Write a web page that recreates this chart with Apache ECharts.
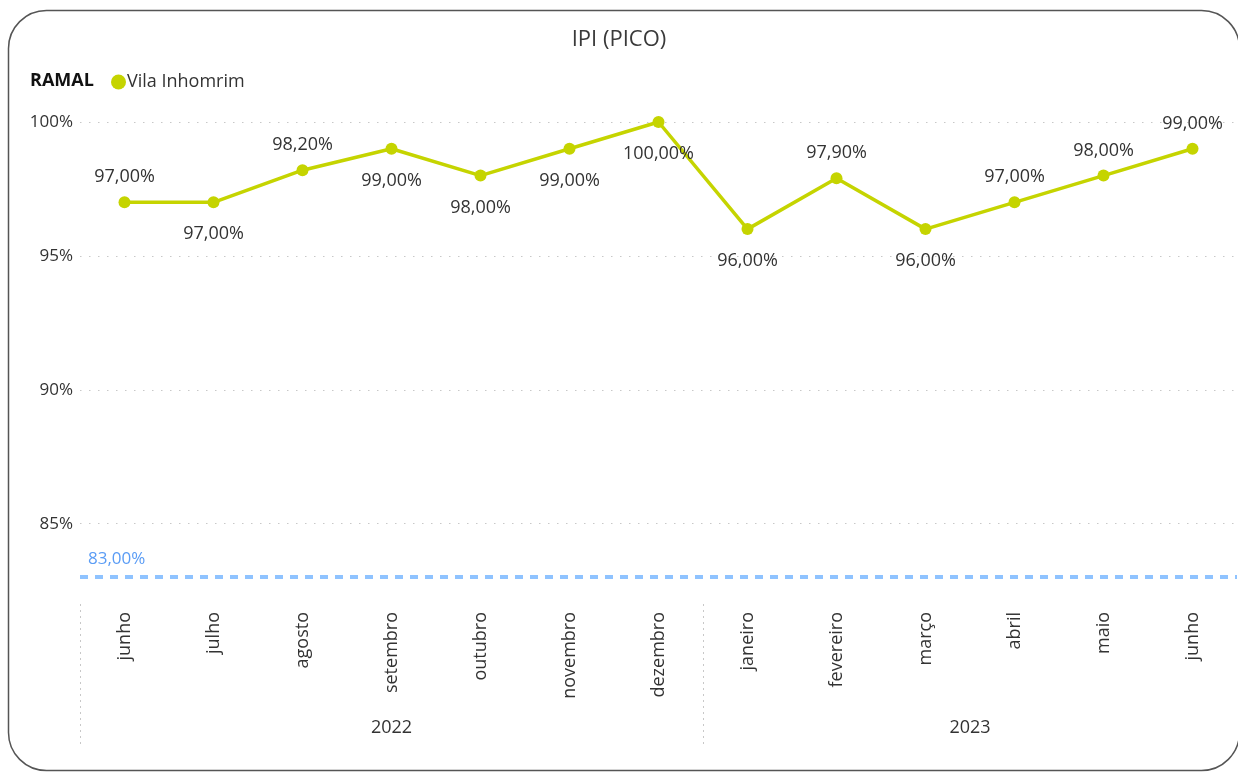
<!DOCTYPE html>
<html>
<head>
<meta charset="utf-8">
<script src="https://cdn.jsdelivr.net/npm/echarts@6/dist/echarts.min.js"></script>
<style>
  html, body { margin: 0; padding: 0; background: #fff; }
  #chart { width: 1238px; height: 772px; }
</style>
</head>
<body>
<div id="chart"></div>
<script>
// Monthly IPI (peak) for the Vila Inhomrim branch, Jun/2022 – Jun/2023
const months = ['junho', 'julho', 'agosto', 'setembro', 'outubro', 'novembro', 'dezembro',
                'janeiro', 'fevereiro', 'março', 'abril', 'maio', 'junho'];
const years = ['2022', '2023'];
const monthsPerYear = [7, 6];
const ipiValues = [97.0, 97.0, 98.2, 99.0, 98.0, 99.0, 100.0, 96.0, 97.9, 96.0, 97.0, 98.0, 99.0];
const targetValue = 83.0;
const yTicks = [85, 90, 95, 100];
const seriesName = 'Vila Inhomrim';

// which side of the point each data label sits on
const labelSide = ['top', 'bottom', 'top', 'bottom', 'bottom', 'bottom', 'bottom',
                   'bottom', 'top', 'bottom', 'top', 'top', 'top'];

const FONT = '"Open Sans", "Noto Sans", sans-serif';
const TEXT = '#333333';
const LINE = '#C5D400';

const fmtPct = v => v.toFixed(2).replace('.', ',') + '%';

// group boundaries and centres for the year row
const bounds = [-0.5];
const centres = [];
monthsPerYear.forEach((n, i) => {
  const start = bounds[i];
  bounds.push(start + n);
  centres.push(start + n / 2);
});

const chart = echarts.init(document.getElementById('chart'), null, { renderer: 'canvas' });

chart.setOption({
  animation: false,
  backgroundColor: '#ffffff',
  title: {
    text: 'IPI (PICO)',
    left: 'center',
    top: 24,
    textStyle: { fontFamily: FONT, fontSize: 22, fontWeight: 'normal', color: '#3a3a3a' }
  },
  graphic: [
    {
      type: 'rect',
      shape: { x: 8.5, y: 10.5, width: 1231, height: 760, r: 38 },
      style: { fill: 'none', stroke: '#555555', lineWidth: 1.5 },
      silent: true,
      z: -1
    },
    {
      type: 'text',
      left: 30,
      top: 72,
      style: { text: 'RAMAL', font: 'bold 18px ' + FONT, fill: '#111111' }
    }
  ],
  legend: {
    left: 106,
    top: 68,
    itemWidth: 15,
    itemHeight: 15,
    itemGap: 10,
    icon: 'circle',
    textStyle: { fontFamily: FONT, fontSize: 18, color: TEXT, padding: [0, 0, 0, -4] },
    data: [seriesName]
  },
  grid: { left: 80, right: 1, top: 122, bottom: 168, containLabel: false },
  xAxis: [
    {
      type: 'category',
      data: months,
      boundaryGap: true,
      axisLine: { show: false },
      axisTick: { show: false },
      axisLabel: {
        rotate: 90,
        margin: 8,
        interval: 0,
        fontFamily: FONT,
        fontSize: 18,
        color: TEXT
      }
    },
    {
      type: 'value',
      position: 'bottom',
      min: -0.5,
      max: months.length - 0.5,
      axisLine: { show: false },
      splitLine: { show: false },
      axisTick: {
        show: true,
        inside: false,
        length: 140,
        customValues: bounds.slice(0, -1),
        lineStyle: { color: '#c8c8c8', type: [2, 4], width: 1 }
      },
      axisLabel: {
        customValues: centres,
        margin: 115,
        fontFamily: FONT,
        fontSize: 18,
        color: TEXT,
        formatter: v => {
          const i = centres.indexOf(v);
          return i >= 0 ? years[i] : '';
        }
      }
    }
  ],
  yAxis: {
    type: 'value',
    min: 82,
    max: 100,
    axisLine: { show: false },
    axisTick: { show: false, customValues: yTicks },
    axisLabel: {
      customValues: yTicks,
      margin: 7,
      fontFamily: FONT,
      fontSize: 17,
      color: TEXT,
      formatter: v => v + '%'
    },
    splitLine: {
      show: true,
      lineStyle: { color: '#c8c8c8', type: [1.5, 7.5], width: 1 }
    }
  },
  series: [
    {
      name: seriesName,
      type: 'line',
      xAxisIndex: 0,
      data: ipiValues.map((v, i) => ({
        value: v,
        label: {
          position: labelSide[i],
          distance: labelSide[i] === 'top' ? 10 : 17
        }
      })),
      clip: false,
      symbol: 'circle',
      symbolSize: 12,
      itemStyle: { color: LINE },
      lineStyle: { color: LINE, width: 3.5 },
      label: {
        show: true,
        fontFamily: FONT,
        fontSize: 18,
        color: TEXT,
        formatter: p => fmtPct(p.value)
      },
      markLine: {
        silent: true,
        symbol: ['none', 'none'],
        data: [{ yAxis: targetValue }],
        lineStyle: { color: '#8FC3FF', type: [8, 7], width: 4 },
        label: {
          show: true,
          position: 'insideStartTop',
          distance: [8, 10],
          fontFamily: FONT,
          fontSize: 17,
          color: '#5A9CF5',
          formatter: () => fmtPct(targetValue)
        }
      }
    }
  ]
});
</script>
</body>
</html>
